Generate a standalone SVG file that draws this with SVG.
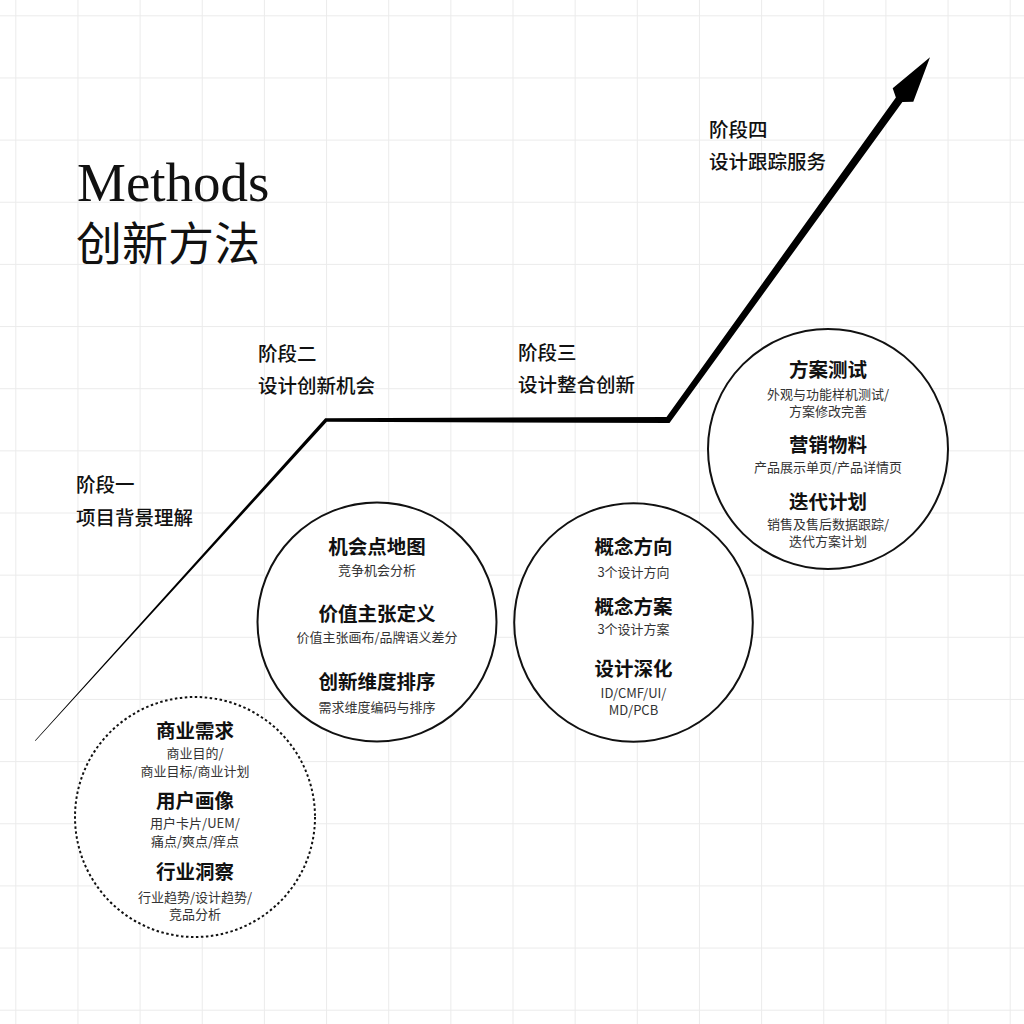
<svg xmlns="http://www.w3.org/2000/svg" width="1024" height="1024" viewBox="0 0 1024 1024">
<defs>
<pattern id="grid" x="15.3" y="15.3" width="62.15" height="62.15" patternUnits="userSpaceOnUse">
<path d="M0 0.5H62.15M0.5 0V62.15" fill="none" stroke="#ebebeb" stroke-width="1"/>
</pattern>
</defs>
<style>
.cjk{font-family:"Noto Sans CJK SC","Noto Sans",sans-serif;}
.stage{font-size:19.5px;font-weight:500;fill:#111;}
.ttl{font-size:19.5px;font-weight:700;fill:#111;text-anchor:middle;}
.sub{font-size:13px;font-weight:400;fill:#333;text-anchor:middle;}
.ring{fill:#fff;stroke:#111;stroke-width:2;}
.dot{fill:#fff;stroke:#111;stroke-width:2;stroke-dasharray:2.5 2.5;}
</style>
<rect width="1024" height="1024" fill="#fff"/>
<rect width="1024" height="1024" fill="url(#grid)"/>

<g id="title">
<text x="77" y="201" font-family="'Liberation Serif','DejaVu Serif',serif" font-size="55" fill="#111">Methods</text>
<text x="76" y="260" class="cjk" font-size="46" font-weight="400" fill="#111">创新方法</text>
</g>

<g id="connectors">
<polygon fill="#000" points="35,740.6 325.2,418.3 666.5,417 895.9,97.4 892.7,88.3 930,57.3 913.3,101.7 902.4,102 669.5,423 326.8,421.8 35.4,740.9"/>
</g>

<g id="stage1" class="cjk stage">
<text x="76" y="491.5">阶段一</text>
<text x="76" y="524.5">项目背景理解</text>
</g>
<g id="stage2" class="cjk stage">
<text x="258" y="360.5">阶段二</text>
<text x="258" y="392.5">设计创新机会</text>
</g>
<g id="stage3" class="cjk stage">
<text x="518" y="360">阶段三</text>
<text x="518" y="392">设计整合创新</text>
</g>
<g id="stage4" class="cjk stage">
<text x="709" y="136.5">阶段四</text>
<text x="709" y="169">设计跟踪服务</text>
</g>

<g id="circle1" class="cjk">
<circle class="dot" cx="195" cy="817" r="120"/>
<text class="ttl" x="195" y="738">商业需求</text>
<text class="sub" x="195" y="757.5">商业目的/</text>
<text class="sub" x="195" y="776">商业目标/商业计划</text>
<text class="ttl" x="195" y="807.5">用户画像</text>
<text class="sub" x="195" y="828">用户卡片/UEM/</text>
<text class="sub" x="195" y="845.5">痛点/爽点/痒点</text>
<text class="ttl" x="195" y="879">行业洞察</text>
<text class="sub" x="195" y="901.5">行业趋势/设计趋势/</text>
<text class="sub" x="195" y="919">竞品分析</text>
</g>

<g id="circle2" class="cjk">
<circle class="ring" cx="377" cy="622" r="119.5"/>
<text class="ttl" x="377" y="554">机会点地图</text>
<text class="sub" x="377" y="575">竞争机会分析</text>
<text class="ttl" x="377" y="620.5">价值主张定义</text>
<text class="sub" x="377" y="642">价值主张画布/品牌语义差分</text>
<text class="ttl" x="377" y="689">创新维度排序</text>
<text class="sub" x="377" y="712">需求维度编码与排序</text>
</g>

<g id="circle3" class="cjk">
<circle class="ring" cx="633.5" cy="622.5" r="119.3"/>
<text class="ttl" x="633.5" y="554">概念方向</text>
<text class="sub" x="633.5" y="577">3个设计方向</text>
<text class="ttl" x="633.5" y="614">概念方案</text>
<text class="sub" x="633.5" y="634">3个设计方案</text>
<text class="ttl" x="633.5" y="675.5">设计深化</text>
<text class="sub" x="633.5" y="697.5">ID/CMF/UI/</text>
<text class="sub" x="633.5" y="715">MD/PCB</text>
</g>

<g id="circle4" class="cjk">
<circle class="ring" cx="828" cy="449" r="120"/>
<text class="ttl" x="828" y="376.5">方案测试</text>
<text class="sub" x="828" y="398.5">外观与功能样机测试/</text>
<text class="sub" x="828" y="416">方案修改完善</text>
<text class="ttl" x="828" y="451.5">营销物料</text>
<text class="sub" x="828" y="472">产品展示单页/产品详情页</text>
<text class="ttl" x="828" y="509">迭代计划</text>
<text class="sub" x="828" y="528.5">销售及售后数据跟踪/</text>
<text class="sub" x="828" y="546">迭代方案计划</text>
</g>
</svg>
